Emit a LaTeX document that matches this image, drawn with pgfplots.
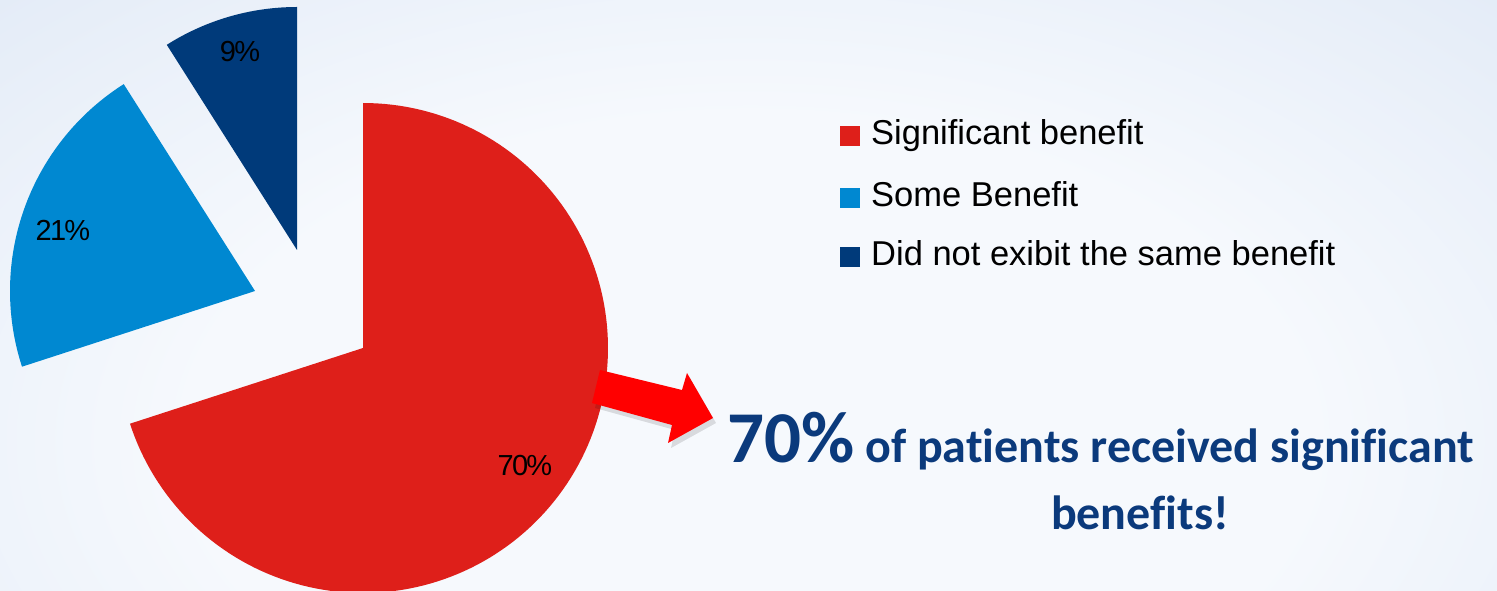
\documentclass[border=0pt]{standalone}
\usepackage{pgfplots}
\pgfplotsset{compat=1.18}
\usepackage{pgfplotstable}
\usepackage{fontspec}
\setmainfont{Liberation Sans}
\newfontfamily\carlito[Ligatures={NoCommon}]{Carlito}
\newfontfamily\lbl[LetterSpace=-6]{Liberation Sans}
\definecolor{cred}{HTML}{DE1F1A}
\definecolor{clb}{HTML}{0088D1}
\definecolor{cdb}{HTML}{003A7A}
\definecolor{ctext}{HTML}{0B3A7C}
\definecolor{bgw}{HTML}{F6F9FD}
\definecolor{bgb}{HTML}{CDDBF0}
\pgfdeclareradialshading{bgshade}{\pgfpoint{0bp}{0bp}}{color(0bp)=(bgw); color(14bp)=(bgw); color(43bp)=(bgb); color(50bp)=(bgb)}

% label, share (%), slice centre (x,y) and radius in picture units
\pgfplotstableread{
label value cx cy r
sig   70    363 243 245
some  21    255 300 245
none  9     297 341 243
}\pietable

\pgfplotstablegetelem{0}{value}\of\pietable \let\vA\pgfplotsretval
\pgfplotstablegetelem{1}{value}\of\pietable \let\vB\pgfplotsretval
\pgfplotstablegetelem{2}{value}\of\pietable \let\vC\pgfplotsretval
\pgfmathsetmacro{\aStart}{90}
\pgfmathsetmacro{\aA}{90-3.6*\vA}
\pgfmathsetmacro{\aB}{\aA-3.6*\vB}
\pgfmathsetmacro{\aC}{\aB-3.6*\vC}

\begin{document}
\begin{tikzpicture}
\useasboundingbox (0,0) rectangle (1497bp,591bp);
\begin{scope}
\clip (0,0) rectangle (1497bp,591bp);
\shade[shading=bgshade] (-250bp,-430bp) rectangle (1750bp,730bp);
\end{scope}
\begin{axis}[
  at={(0,0)}, anchor=south west,
  scale only axis, width=1497bp, height=591bp,
  xmin=0, xmax=1497, ymin=0, ymax=591,
  hide axis, clip=true,
]
\addplot[fill=cred, draw=none, domain=\aA:\aStart, samples=150, variable=\t]
  ({363+245*cos(\t)},{243+245*sin(\t)}) -- (axis cs:363,243) -- cycle;
\addplot[fill=clb, draw=none, domain=\aB:\aA, samples=80, variable=\t]
  ({255+245*cos(\t)},{300+245*sin(\t)}) -- (axis cs:255,300) -- cycle;
\addplot[fill=cdb, draw=none, domain=\aC:\aB, samples=60, variable=\t]
  ({297+243*cos(\t)},{341+243*sin(\t)}) -- (axis cs:297,341) -- cycle;

% slice labels
\node[font=\lbl\fontsize{29bp}{32bp}\selectfont] at (axis cs:240,539) {9\%};
\node[font=\lbl\fontsize{29bp}{32bp}\selectfont] at (axis cs:63,361) {21\%};
\node[font=\lbl\fontsize{29bp}{32bp}\selectfont] at (axis cs:525,125) {70\%};

% legend
\fill[cred] (axis cs:840,445) rectangle (axis cs:860,465);
\fill[clb]  (axis cs:840,383) rectangle (axis cs:860,403);
\fill[cdb]  (axis cs:840,324) rectangle (axis cs:860,344);
\node[anchor=base west, inner sep=0, font=\fontsize{34.5bp}{38bp}\selectfont] at (axis cs:871,446) {Significant benefit};
\node[anchor=base west, inner sep=0, font=\fontsize{34.5bp}{38bp}\selectfont] at (axis cs:871,384) {Some Benefit};
\node[anchor=base west, inner sep=0, font=\fontsize{34.5bp}{38bp}\selectfont] at (axis cs:871,325) {Did not exibit the same benefit};

% arrow
\fill[black, opacity=0.12] (axis cs:603,216) -- (axis cs:685,196) -- (axis cs:690,213) -- (axis cs:716,168) -- (axis cs:671,143) -- (axis cs:675,161) -- (axis cs:595,183) -- cycle;
\fill[red] (axis cs:600,221) -- (axis cs:682,201) -- (axis cs:687,218) -- (axis cs:713,173) -- (axis cs:668,148) -- (axis cs:672,166) -- (axis cs:592,188) -- cycle;

% headline
\node[anchor=base west, inner sep=0, text=ctext] at (axis cs:727,128)
  {\carlito\bfseries\fontsize{73bp}{80bp}\selectfont 70\%\fontsize{48bp}{50bp}\selectfont\ of patients received significant};
\node[anchor=base, inner sep=0, text=ctext] at (axis cs:1140,61)
  {\carlito\bfseries\fontsize{48bp}{50bp}\selectfont benefits!};
\end{axis}
\end{tikzpicture}
\end{document}
